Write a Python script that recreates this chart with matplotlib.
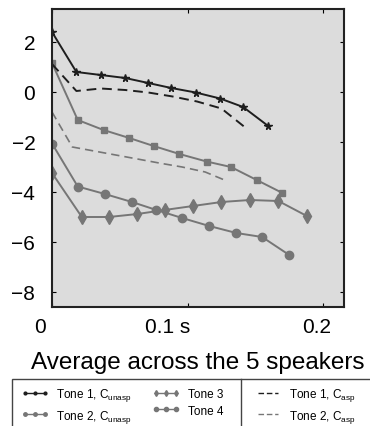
import matplotlib
matplotlib.use('Agg')
import matplotlib.pyplot as plt
import matplotlib.transforms as mtransforms
from matplotlib.patches import Rectangle
from matplotlib.lines import Line2D

plt.rcParams['font.family'] = ['Liberation Sans', 'DejaVu Sans']

# temps (s) et valeurs moyennes de chaque courbe
t_t1u = [0.0, 0.018, 0.036, 0.054, 0.071, 0.088, 0.106, 0.124, 0.141, 0.159]
y_t1u = [2.4, 0.8, 0.68, 0.56, 0.36, 0.16, -0.02, -0.26, -0.6, -1.34]

t_t2u = [0.0, 0.019, 0.038, 0.057, 0.075, 0.094, 0.114, 0.132, 0.151, 0.170]
y_t2u = [1.16, -1.12, -1.52, -1.84, -2.16, -2.48, -2.78, -3.0, -3.52, -4.04]

t_t3 = [0.0, 0.022, 0.042, 0.063, 0.083, 0.104, 0.125, 0.146, 0.167, 0.188]
y_t3 = [-3.24, -5.0, -5.0, -4.88, -4.72, -4.56, -4.4, -4.32, -4.36, -4.96]

t_t4 = [0.0, 0.019, 0.039, 0.059, 0.077, 0.096, 0.116, 0.136, 0.155, 0.175]
y_t4 = [-2.06, -3.78, -4.08, -4.4, -4.72, -5.04, -5.36, -5.64, -5.8, -6.52]

t_t1a = [0.0, 0.018, 0.036, 0.054, 0.071, 0.089, 0.107, 0.125, 0.143]
y_t1a = [1.12, 0.04, 0.14, 0.08, -0.02, -0.18, -0.38, -0.66, -1.44]

t_t2a = [0.0, 0.015, 0.032, 0.048, 0.064, 0.080, 0.096, 0.113, 0.129]
y_t2a = [-0.8, -2.2, -2.37, -2.53, -2.69, -2.85, -3.0, -3.2, -3.56]

xticks = [0, 0.1, 0.2]
xticklabels = ['0', '0.1 s', '0.2']
yticks = [2, 0, -2, -4, -6, -8]

noir = '#1e1e1e'
gris = '#767676'

fig = plt.figure(figsize=(3.7, 4.27), dpi=100)
ax = fig.add_axes([52/370, 1-308/427, 292/370, 298/427])
ax.set_facecolor('#dcdcdc')

ax.plot(t_t1u, y_t1u, '-', color=noir, lw=1.4, marker='*', ms=5.5)
ax.plot(t_t2u, y_t2u, '-', color=gris, lw=1.4, marker='s', ms=5)
ax.plot(t_t3, y_t3, '-', color=gris, lw=1.4, marker='d', ms=7)
ax.plot(t_t4, y_t4, '-', color=gris, lw=1.4, marker='o', ms=6)
ax.plot(t_t1a, y_t1a, '--', color=noir, lw=1.4, dashes=(5, 3))
ax.plot(t_t2a, y_t2a, '--', color=gris, lw=1.2, dashes=(5, 3))

ax.set_xlim(0, 0.2154)
ax.set_ylim(-8.6, 3.32)
ax.set_xticks(xticks)
ax.set_xticklabels(xticklabels)
ax.set_yticks(yticks)
ax.set_yticklabels([str(v).replace('-', '\u2212') for v in yticks])
ax.tick_params(direction='in', top=True, right=True, length=3, labelsize=15)
ax.tick_params(axis='y', pad=12)
ax.tick_params(axis='x', pad=7)
# alignement des etiquettes comme dans la figure
labs = ax.get_xticklabels()
labs[0].set_ha('right')
labs[0].set_transform(labs[0].get_transform() + mtransforms.ScaledTranslation(-6/100, 0, fig.dpi_scale_trans))
labs[1].set_ha('right')
labs[1].set_transform(labs[1].get_transform() + mtransforms.ScaledTranslation(3/100, 0, fig.dpi_scale_trans))
labs[2].set_transform(labs[2].get_transform() + mtransforms.ScaledTranslation(-6/100, 0, fig.dpi_scale_trans))
for s in ax.spines.values():
    s.set_linewidth(1.5)
    s.set_color('#222222')

fig.text(198/370, 1-363/427, 'Average across the 5 speakers', ha='center', va='center', fontsize=17.5)

# cadre de la legende
fig.patches.append(Rectangle((12/370, -0.1), 360/370, 0.1+1-380/427, transform=fig.transFigure,
                             fill=False, ec='#444444', lw=1.0))
fig.lines.append(Line2D([241/370, 241/370], [0, 1-380/427], transform=fig.transFigure,
                        color='#444444', lw=1.0))

hl = [Line2D([], [], color=noir, lw=1.0, marker='o', ms=2),
      Line2D([], [], color=gris, lw=1.0, marker='o', ms=2.5),
      Line2D([], [], color=gris, lw=1.0, marker='d', ms=3),
      Line2D([], [], color=gris, lw=1.0, marker='o', ms=3)]
lab = ['Tone 1, C$_\\mathregular{unasp}$', 'Tone 2, C$_\\mathregular{unasp}$', 'Tone 3', 'Tone 4']
fig.legend(hl, lab, loc='upper left', bbox_to_anchor=(21/370, 1-387/427), ncol=2,
           frameon=False, fontsize=8.5, numpoints=3, handlelength=2.3, handletextpad=0.7,
           columnspacing=1.7, borderpad=0, borderaxespad=0, labelspacing=0.4)
hr = [Line2D([], [], color=noir, lw=1.0, ls='--', dashes=(4, 2)),
      Line2D([], [], color=gris, lw=1.0, ls='--', dashes=(4, 2))]
labr = ['Tone 1, C$_\\mathregular{asp}$', 'Tone 2, C$_\\mathregular{asp}$']
fig.legend(hr, labr, loc='upper left', bbox_to_anchor=(258/370, 1-387/427), ncol=1,
           frameon=False, fontsize=8.5, handlelength=1.7, handletextpad=0.9,
           borderpad=0, borderaxespad=0, labelspacing=0.4)

fig.savefig('out.png', dpi=100)
